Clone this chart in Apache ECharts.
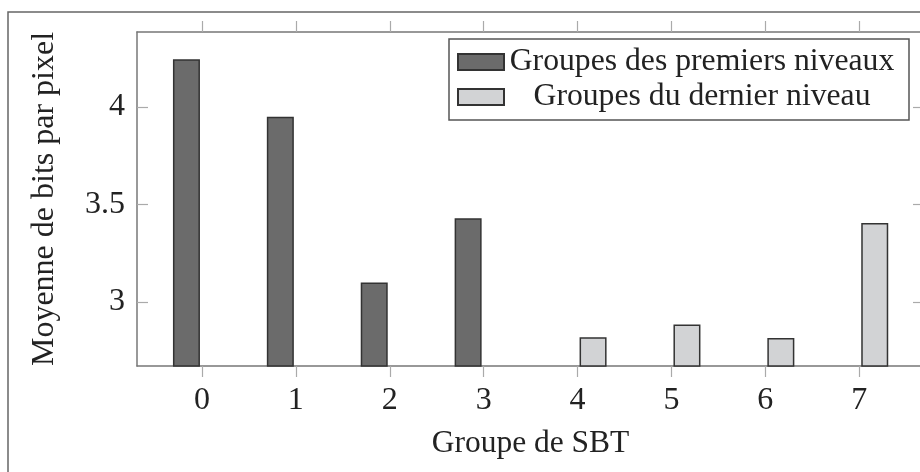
<!DOCTYPE html>
<html>
<head>
<meta charset="utf-8">
<script src="https://cdn.jsdelivr.net/npm/echarts@6/dist/echarts.min.js"></script>
<style>
  html, body { margin: 0; padding: 0; background: #fff; }
  #chart { width: 920px; height: 472px; }
</style>
</head>
<body>
<div id="chart"></div>
<script>
// groupes de SBT (axe x)
const groupes = [0, 1, 2, 3, 4, 5, 6, 7];
// moyenne de bits par pixel
const premiersNiveaux = [4.245, 3.95, 3.1, 3.43];      // groupes 0..3
const dernierNiveau = [2.82, 2.885, 2.815, 3.405];     // groupes 4..7
const yTicks = [3, 3.5, 4];

const premiersData = premiersNiveaux.map((v, i) => [groupes[i], v]);
const dernierData = dernierNiveau.map((v, i) => [groupes[i + 4], v]);

const font = "Liberation Serif";
const lineCol = "#777";
const tickCol = "#aaa";

const chart = echarts.init(document.getElementById("chart"));

chart.setOption({
  animation: false,
  textStyle: { fontFamily: font, color: "#222" },
  grid: { left: 137, top: 32, right: -4, bottom: 106, outerBoundsMode: "none", containLabel: false },
  legend: {
    orient: "vertical",
    left: 449,
    top: 39,
    padding: [7, 14, 7, 8],
    itemGap: 3,
    itemWidth: 46,
    itemHeight: 16,
    borderColor: "#555",
    borderWidth: 1.5,
    backgroundColor: "#fff",
    icon: "rect",
    formatter: (name) => "{a|" + name + "}",
    textStyle: {
      rich: {
        a: {
          fontFamily: font,
          fontSize: 31.7,
          lineHeight: 34,
          width: 386,
          align: "center",
          color: "#222",
        },
      },
    },
  },
  xAxis: [
    {
      type: "value",
      position: "bottom",
      min: -0.692,
      max: 7.69,
      name: "Groupe de SBT",
      nameLocation: "middle",
      nameGap: 62,
      nameTextStyle: { fontFamily: font, fontSize: 31.5, color: "#222" },
      axisLine: { show: true, onZero: false, lineStyle: { color: lineCol, width: 1.5 } },
      axisTick: {
        show: true,
        inside: false,
        length: 11,
        customValues: groupes,
        lineStyle: { color: tickCol, width: 1.2 },
      },
      axisLabel: {
        customValues: groupes,
        fontFamily: font,
        fontSize: 32,
        color: "#222",
        margin: 19,
      },
      splitLine: { show: false },
    },
    {
      type: "value",
      position: "top",
      min: -0.692,
      max: 7.69,
      axisLine: { show: true, onZero: false, lineStyle: { color: lineCol, width: 1.5 } },
      axisTick: {
        show: true,
        inside: false,
        length: 11,
        customValues: groupes,
        lineStyle: { color: tickCol, width: 1.2 },
      },
      axisLabel: { show: false },
      splitLine: { show: false },
    },
  ],
  yAxis: [
    {
      type: "value",
      position: "left",
      min: 2.672,
      max: 4.385,
      name: "Moyenne de bits par pixel",
      nameLocation: "middle",
      nameGap: 76,
      nameTextStyle: { fontFamily: font, fontSize: 32, color: "#222" },
      axisLine: { show: true, onZero: false, lineStyle: { color: lineCol, width: 1.5 } },
      axisTick: {
        show: true,
        inside: true,
        length: 11,
        customValues: yTicks,
        lineStyle: { color: tickCol, width: 1.2 },
      },
      axisLabel: {
        customValues: yTicks,
        fontFamily: font,
        fontSize: 32,
        color: "#222",
        margin: 12,
      },
      splitLine: { show: false },
    },
    {
      type: "value",
      position: "right",
      min: 2.672,
      max: 4.385,
      axisLine: { show: true, onZero: false, lineStyle: { color: lineCol, width: 1.5 } },
      axisTick: {
        show: true,
        inside: true,
        length: 11,
        customValues: yTicks,
        lineStyle: { color: tickCol, width: 1.2 },
      },
      axisLabel: { show: false },
      splitLine: { show: false },
    },
  ],
  series: [
    {
      name: "Groupes des premiers niveaux",
      type: "bar",
      barWidth: 27,
      barGap: "15%",
      data: premiersData,
      itemStyle: { color: "#6b6b6b", borderColor: "#333", borderWidth: 1.5 },
    },
    {
      name: "Groupes du dernier niveau",
      type: "bar",
      barWidth: 27,
      barGap: "15%",
      data: dernierData,
      itemStyle: { color: "#d2d3d5", borderColor: "#333", borderWidth: 1.5 },
    },
  ],
  graphic: [
    {
      type: "rect",
      silent: true,
      shape: { x: 8, y: 12, width: 1000, height: 1000 },
      style: { fill: "none", stroke: "#666", lineWidth: 1.5 },
    },
  ],
});
</script>
</body>
</html>
